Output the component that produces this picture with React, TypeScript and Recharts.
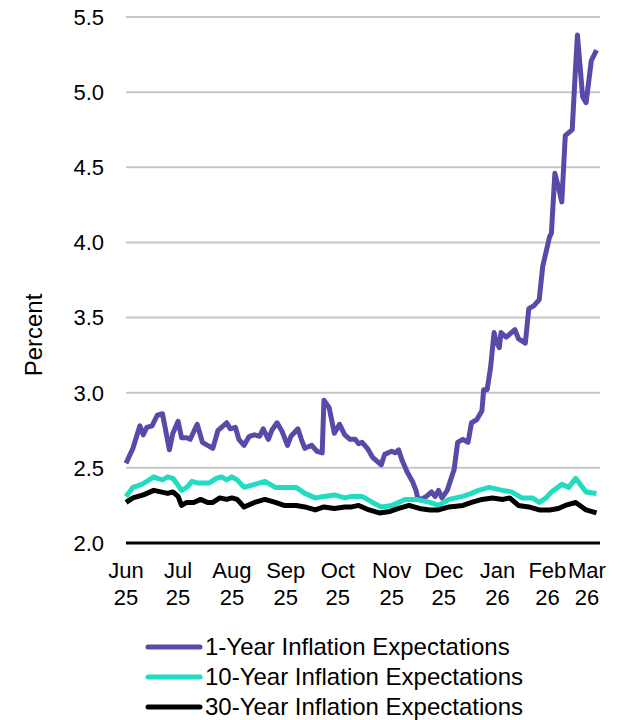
/**
 * Inflation expectations - line chart
 */

import React from 'react';
import { LineChart, Line, XAxis, YAxis, CartesianGrid, Legend } from 'recharts';

const FONT = '"Liberation Sans", Arial, sans-serif';

// x = days since Jun 1 2025
const oneYearDays = [
  0, 4, 8, 10, 12, 15, 18, 21, 25, 27,
  30, 32, 35, 37, 41, 44, 47, 50, 53, 58,
  60, 63, 65, 68, 71, 74, 77, 79, 82, 84,
  87, 90, 93, 95, 99, 101, 103, 107, 110, 113,
  114, 117, 120, 123, 126, 129, 132, 134, 136, 139,
  142, 147, 149, 153, 155, 157, 159, 162, 165, 167,
  168, 170, 173, 176, 178, 180, 182, 185, 187, 189,
  191, 194, 197, 199, 202, 205, 206, 208, 210, 212,
  213, 215, 216, 219, 222, 224, 226, 230, 232, 235,
  238, 240, 244, 245, 247, 249, 251, 253, 257, 259,
  260, 263, 265, 268, 271,
];
const oneYearValues = [
  2.53, 2.63, 2.78, 2.72, 2.77, 2.78, 2.85, 2.86, 2.62, 2.73,
  2.81, 2.70, 2.70, 2.69, 2.79, 2.67, 2.65, 2.63, 2.75, 2.80,
  2.76, 2.77, 2.69, 2.65, 2.71, 2.72, 2.71, 2.76, 2.69, 2.75,
  2.80, 2.74, 2.65, 2.71, 2.76, 2.69, 2.63, 2.65, 2.61, 2.60,
  2.95, 2.90, 2.73, 2.79, 2.72, 2.69, 2.69, 2.66, 2.67, 2.63,
  2.57, 2.52, 2.59, 2.61, 2.60, 2.62, 2.55, 2.47, 2.41, 2.35,
  2.30, 2.29, 2.31, 2.34, 2.31, 2.35, 2.30, 2.35, 2.42, 2.49,
  2.67, 2.69, 2.67, 2.80, 2.82, 2.88, 3.02, 3.02, 3.17, 3.40,
  3.35, 3.30, 3.40, 3.37, 3.40, 3.42, 3.36, 3.33, 3.56, 3.58,
  3.62, 3.84, 4.04, 4.06, 4.46, 4.37, 4.27, 4.71, 4.75, 5.18,
  5.38, 4.97, 4.93, 5.21, 5.28,
];

const tenYearDays = [
  0, 4, 9, 12, 16, 18, 21, 24, 27, 29,
  32, 35, 38, 41, 44, 48, 52, 55, 58, 61,
  64, 68, 74, 80, 86, 91, 98, 103, 109, 114,
  120, 126, 130, 136, 142, 147, 153, 161, 167, 175,
  180, 186, 194, 199, 203, 209, 217, 222, 228, 234,
  238, 242, 245, 251, 255, 259, 265, 271,
];
const tenYearValues = [
  2.31, 2.37, 2.39, 2.41, 2.44, 2.43, 2.42, 2.44, 2.43, 2.40,
  2.35, 2.37, 2.41, 2.40, 2.40, 2.40, 2.43, 2.44, 2.42, 2.44,
  2.42, 2.37, 2.39, 2.41, 2.37, 2.37, 2.37, 2.33, 2.30, 2.31,
  2.32, 2.30, 2.31, 2.31, 2.27, 2.24, 2.25, 2.29, 2.29, 2.27,
  2.25, 2.29, 2.31, 2.33, 2.35, 2.37, 2.35, 2.34, 2.30, 2.30,
  2.27, 2.30, 2.34, 2.39, 2.37, 2.43, 2.34, 2.33,
];

const thirtyYearDays = [
  0, 4, 10, 16, 20, 24, 27, 30, 32, 35,
  39, 43, 47, 50, 54, 58, 61, 64, 68, 74,
  80, 86, 91, 98, 103, 109, 114, 120, 126, 130,
  134, 140, 146, 152, 157, 163, 169, 175, 180, 186,
  194, 199, 205, 211, 217, 221, 226, 232, 238, 244,
  249, 253, 259, 265, 271,
];
const thirtyYearValues = [
  2.27, 2.30, 2.32, 2.35, 2.34, 2.33, 2.34, 2.31, 2.25, 2.27,
  2.27, 2.29, 2.27, 2.27, 2.30, 2.29, 2.30, 2.29, 2.24, 2.27,
  2.29, 2.27, 2.25, 2.25, 2.24, 2.22, 2.24, 2.23, 2.24, 2.24,
  2.25, 2.22, 2.20, 2.21, 2.23, 2.25, 2.23, 2.22, 2.22, 2.24,
  2.25, 2.27, 2.29, 2.30, 2.29, 2.30, 2.25, 2.24, 2.22, 2.22,
  2.23, 2.25, 2.27, 2.22, 2.20,
];

const monthTicks = [0, 30, 61, 92, 122, 153, 183, 214, 245, 273];
const monthLabels = ['Jun', 'Jul', 'Aug', 'Sep', 'Oct', 'Nov', 'Dec', 'Jan', 'Feb', 'Mar'];
const yearLabels = ['25', '25', '25', '25', '25', '25', '25', '26', '26', '26'];
const yTicks = [2.0, 2.5, 3.0, 3.5, 4.0, 4.5, 5.0, 5.5];

const toPoints = (days: number[], values: number[]) =>
  days.map((day, i) => ({ day, value: values[i] }));

const SERIES = [
  { name: '1-Year Inflation Expectations', color: '#574AA8', data: toPoints(oneYearDays, oneYearValues) },
  { name: '10-Year Inflation Expectations', color: '#22DCC2', data: toPoints(tenYearDays, tenYearValues) },
  { name: '30-Year Inflation Expectations', color: '#000000', data: toPoints(thirtyYearDays, thirtyYearValues) },
];

function MonthTick({ x, y, payload }: any) {
  const i = monthTicks.indexOf(payload.value);
  // the last two labels are nudged left so they don't collide at the edge
  const last = monthTicks.length - 1;
  const tx = i === last ? x - 13 : i === last - 1 ? x - 4 : x;
  return (
    <text x={tx} y={y} textAnchor="middle" fontSize={22} fill="#000" fontFamily={FONT}>
      <tspan x={tx} dy={35}>{monthLabels[i]}</tspan>
      <tspan x={tx} dy={27}>{yearLabels[i]}</tspan>
    </text>
  );
}

function PercentLabel({ viewBox }: any) {
  const x = viewBox.x + 33;
  const y = viewBox.y + viewBox.height / 2 + 55;
  return (
    <text
      x={x}
      y={y}
      transform={`rotate(-90 ${x} ${y})`}
      textAnchor="middle"
      dominantBaseline="central"
      fontSize={24}
      fill="#000"
      fontFamily={FONT}
    >
      Percent
    </text>
  );
}

function LegendRows() {
  return (
    <div style={{ fontFamily: FONT, fontSize: 24, color: '#000' }}>
      {SERIES.map((s) => (
        <div key={s.name} style={{ display: 'flex', alignItems: 'center', height: 30 }}>
          <svg width={58} height={10}>
            <line x1={3} y1={5} x2={55} y2={5} stroke={s.color} strokeWidth={5} strokeLinecap="round" />
          </svg>
          <span style={{ marginLeft: 2, whiteSpace: 'nowrap', lineHeight: '30px' }}>{s.name}</span>
        </div>
      ))}
    </div>
  );
}

export default function App() {
  return (
    <div style={{ width: 639, height: 720, background: '#fff' }}>
      <style>{'body { margin: 0; overflow: hidden; }'}</style>
      <LineChart width={639} height={720} margin={{ top: 17, right: 39, bottom: 107, left: 0 }}>
        <CartesianGrid vertical={false} stroke="#C6C6C6" strokeWidth={2} />
        <XAxis
          type="number"
          dataKey="day"
          domain={[0, 273]}
          ticks={monthTicks}
          interval={0}
          tick={<MonthTick />}
          tickLine={false}
          tickSize={0}
          tickMargin={0}
          height={70}
          axisLine={{ stroke: '#000', strokeWidth: 3 }}
        />
        <YAxis
          type="number"
          domain={[2, 5.5]}
          ticks={yTicks}
          width={126}
          axisLine={false}
          tickLine={false}
          tickSize={0}
          tickMargin={22}
          tickFormatter={(v: number) => v.toFixed(1)}
          tick={{ fontSize: 22, fill: '#000', fontFamily: FONT }}
          label={<PercentLabel />}
        />
        <Legend
          layout="vertical"
          align="center"
          verticalAlign="middle"
          content={<LegendRows />}
          wrapperStyle={{ top: 632, left: 145, width: 480 }}
        />
        {SERIES.map((s) => (
          <Line
            key={s.name}
            data={s.data}
            dataKey="value"
            name={s.name}
            type="linear"
            stroke={s.color}
            strokeWidth={5}
            strokeLinejoin="round"
            dot={false}
            activeDot={false}
            isAnimationActive={false}
          />
        ))}
      </LineChart>
    </div>
  );
}
